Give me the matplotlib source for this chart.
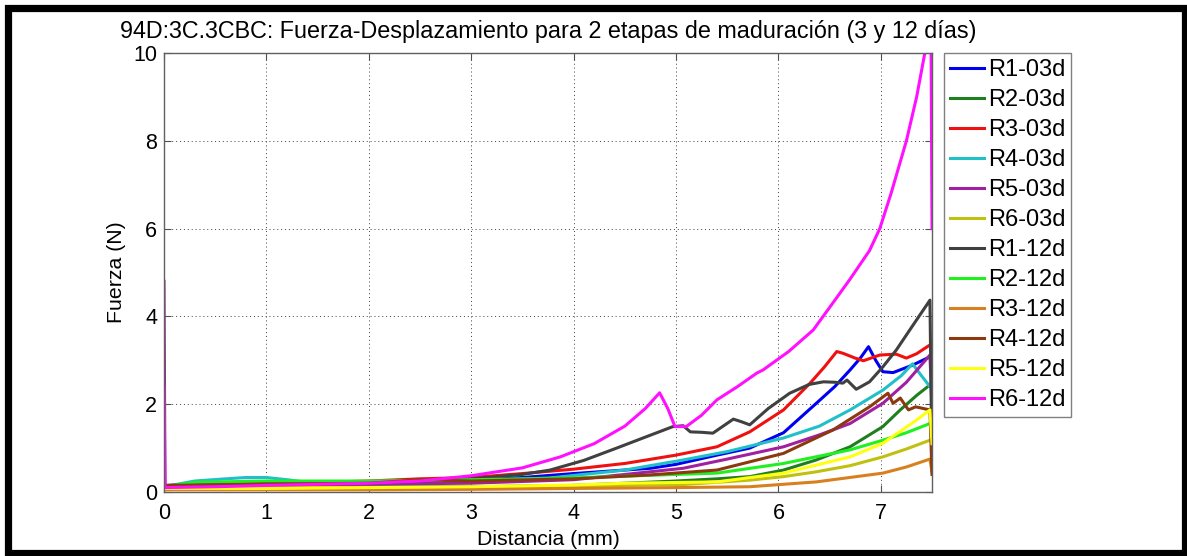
import matplotlib
matplotlib.use("Agg")
import matplotlib.pyplot as plt
from matplotlib.patches import Rectangle

plt.rcParams['font.family'] = ['Liberation Sans', 'DejaVu Sans']

title = "94D:3C.3CBC: Fuerza-Desplazamiento para 2 etapas de maduración (3 y 12 días)"
xlabel = "Distancia (mm)"
ylabel = "Fuerza (N)"
labels = ["R1-03d", "R2-03d", "R3-03d", "R4-03d", "R5-03d", "R6-03d",
          "R1-12d", "R2-12d", "R3-12d", "R4-12d", "R5-12d", "R6-12d"]
colors = ["#0000f0", "#1f7f1f", "#f01010", "#20c0c8", "#a020a0", "#c0c010",
          "#404040", "#20f020", "#d88020", "#8b3a10", "#ffff10", "#ff10ff"]

x_r1_03 = [0, 0.3, 0.8, 1.5, 2, 2.5, 3, 3.5, 4, 4.5, 4.75, 5, 5.4, 5.72, 6.05, 6.37, 6.55, 6.70, 6.80, 6.88, 6.95, 7.02, 7.12, 7.31, 7.48]
y_r1_03 = [0.12, 0.18, 0.22, 0.2, 0.2, 0.22, 0.27, 0.33, 0.42, 0.5, 0.54, 0.63, 0.84, 1.0, 1.35, 2.02, 2.40, 2.78, 3.05, 3.31, 3.0, 2.74, 2.72, 2.89, 3.08]

x_r2_03 = [0, 0.3, 1, 2, 3, 4, 4.5, 5, 5.4, 5.72, 6.05, 6.37, 6.7, 7.02, 7.19, 7.35, 7.48]
y_r2_03 = [0.1, 0.15, 0.15, 0.12, 0.12, 0.15, 0.2, 0.25, 0.3, 0.35, 0.5, 0.73, 1.03, 1.49, 1.87, 2.2, 2.44]

x_r3_03 = [0, 0.3, 1, 1.5, 2, 2.5, 3, 3.5, 4, 4.5, 5, 5.4, 5.72, 6.05, 6.31, 6.45, 6.57, 6.63, 6.75, 6.83, 6.99, 7.15, 7.25, 7.35, 7.48]
y_r3_03 = [0.12, 0.18, 0.2, 0.22, 0.25, 0.3, 0.33, 0.42, 0.52, 0.65, 0.84, 1.03, 1.37, 1.87, 2.48, 2.85, 3.2, 3.16, 3.05, 2.99, 3.12, 3.14, 3.05, 3.15, 3.35]

x_r4_03 = [0, 0.3, 0.6, 0.8, 1.0, 1.2, 1.4, 2, 3, 3.77, 4.5, 5.07, 5.5, 6.05, 6.4, 6.7, 7.02, 7.2, 7.31, 7.38, 7.48]
y_r4_03 = [0.12, 0.25, 0.3, 0.33, 0.33, 0.28, 0.22, 0.22, 0.25, 0.32, 0.5, 0.73, 0.92, 1.23, 1.5, 1.87, 2.32, 2.65, 2.92, 2.7, 2.4]

x_r5_03 = [0, 0.01, 0.3, 1, 2, 3, 4, 4.5, 5.07, 5.5, 6.05, 6.4, 6.7, 7.02, 7.25, 7.48, 7.5]
y_r5_03 = [4.8, 0.15, 0.18, 0.18, 0.18, 0.2, 0.28, 0.4, 0.54, 0.75, 1.03, 1.3, 1.56, 2.02, 2.5, 3.12, 1.9]

x_r6_03 = [0, 1, 2, 3, 4, 4.5, 5.07, 5.72, 6.05, 6.37, 6.7, 7.02, 7.25, 7.48]
y_r6_03 = [0.08, 0.1, 0.1, 0.1, 0.13, 0.15, 0.17, 0.27, 0.35, 0.46, 0.6, 0.80, 0.98, 1.18]

x_r1_12 = [0, 0.3, 1, 2, 3, 3.5, 3.77, 4.1, 4.42, 4.7, 4.97, 5.07, 5.14, 5.25, 5.36, 5.46, 5.56, 5.64, 5.72, 5.9, 6.11, 6.3, 6.44, 6.55, 6.63, 6.67, 6.76, 6.89, 7.02, 7.15, 7.3, 7.48, 7.5]
y_r1_12 = [0.12, 0.15, 0.18, 0.2, 0.3, 0.4, 0.5, 0.72, 1.0, 1.25, 1.49, 1.51, 1.37, 1.36, 1.34, 1.5, 1.66, 1.6, 1.53, 1.9, 2.25, 2.45, 2.51, 2.5, 2.48, 2.55, 2.34, 2.51, 2.85, 3.23, 3.75, 4.37, 0.5]

x_r2_12 = [0, 0.3, 1, 2, 3, 3.5, 4, 4.5, 5, 5.4, 6.05, 6.7, 7.02, 7.25, 7.48]
y_r2_12 = [0.12, 0.22, 0.25, 0.25, 0.28, 0.3, 0.32, 0.36, 0.4, 0.43, 0.65, 0.96, 1.18, 1.35, 1.56]

x_r3_12 = [0, 1, 2, 3, 4, 5, 5.72, 6.37, 7.02, 7.25, 7.48, 7.5]
y_r3_12 = [0.05, 0.05, 0.05, 0.06, 0.08, 0.1, 0.12, 0.23, 0.43, 0.57, 0.75, 0.45]

x_r4_12 = [0, 1, 2, 2.5, 3, 4, 4.75, 5.4, 6.05, 6.53, 6.89, 7.07, 7.12, 7.19, 7.27, 7.34, 7.48, 7.5]
y_r4_12 = [0.15, 0.18, 0.2, 0.28, 0.25, 0.3, 0.39, 0.5, 0.88, 1.41, 1.94, 2.25, 2.02, 2.14, 1.87, 1.94, 1.87, 0.4]

x_r5_12 = [0, 1, 2, 3, 4, 4.5, 5.4, 6.05, 6.7, 7.02, 7.35, 7.48, 7.5]
y_r5_12 = [0.08, 0.08, 0.1, 0.12, 0.16, 0.2, 0.23, 0.43, 0.80, 1.11, 1.64, 1.87, 1.1]

x_r6_12 = [0, 0.01, 0.5, 1, 2, 2.5, 3, 3.5, 3.87, 4.2, 4.5, 4.7, 4.84, 4.92, 4.99, 5.1, 5.25, 5.4, 5.6, 5.79, 5.85, 6.1, 6.34, 6.53, 6.7, 6.89, 6.99, 7.1, 7.25, 7.35, 7.43, 7.49, 7.5]
y_r6_12 = [2.4, 0.1, 0.12, 0.15, 0.2, 0.25, 0.37, 0.55, 0.80, 1.1, 1.5, 1.9, 2.26, 1.9, 1.49, 1.49, 1.75, 2.10, 2.4, 2.71, 2.78, 3.2, 3.69, 4.3, 4.85, 5.5, 6.0, 6.8, 8.0, 9.0, 10.0, 10.6, 6.0]

series_x = [x_r1_03, x_r2_03, x_r3_03, x_r4_03, x_r5_03, x_r6_03,
            x_r1_12, x_r2_12, x_r3_12, x_r4_12, x_r5_12, x_r6_12]
series_y = [y_r1_03, y_r2_03, y_r3_03, y_r4_03, y_r5_03, y_r6_03,
            y_r1_12, y_r2_12, y_r3_12, y_r4_12, y_r5_12, y_r6_12]

xticks = [0, 1, 2, 3, 4, 5, 6, 7]
yticks = [0, 2, 4, 6, 8, 10]

W, H = 1187, 556
fig = plt.figure(figsize=(W / 100, H / 100), dpi=100)
fig.patch.set_facecolor("white")
ax = fig.add_axes([164 / W, 1 - 492 / H, (932 - 164) / W, (492 - 53) / H])

for xs, ys, c, lab in zip(series_x, series_y, colors, labels):
    ax.plot(xs, ys, color=c, lw=2.2, label=lab, solid_joinstyle="round")

ax.set_xlim(0, 7.5)
ax.set_ylim(0, 10)
ax.set_xticks(xticks)
ax.set_yticks(yticks)
ax.grid(True, linestyle=(0, (1, 3)), color="#404040", lw=0.7)
ax.tick_params(direction="in", length=5, width=0.8, color="#505050",
               top=True, right=True, labelsize=15.5)
ax.tick_params(axis="x", pad=8)
ax.tick_params(axis="y", pad=5)
for s in ax.spines.values():
    s.set_color("#606060")
    s.set_linewidth(1.0)

ax.set_title(title, fontsize=16.8, pad=11)
ax.set_xlabel(xlabel, fontsize=15.3, labelpad=4)
ax.set_ylabel(ylabel, fontsize=15.3, labelpad=5)

leg = ax.legend(loc="upper left", bbox_to_anchor=(944 / W, 1 - 53 / H),
                bbox_transform=fig.transFigure, fontsize=17, frameon=True,
                fancybox=False, edgecolor="#606060", handlelength=1.44,
                handletextpad=0.17, labelspacing=0.34, borderpad=0.25,
                borderaxespad=0)
leg.get_frame().set_linewidth(1.0)

fig.patches.append(Rectangle((7.5, 3), 1185 - 7.5, 548 - 3, fill=False,
                             edgecolor="black", linewidth=5.2,
                             transform=None, figure=fig))

fig.savefig("out.png", dpi=100, facecolor="white")
